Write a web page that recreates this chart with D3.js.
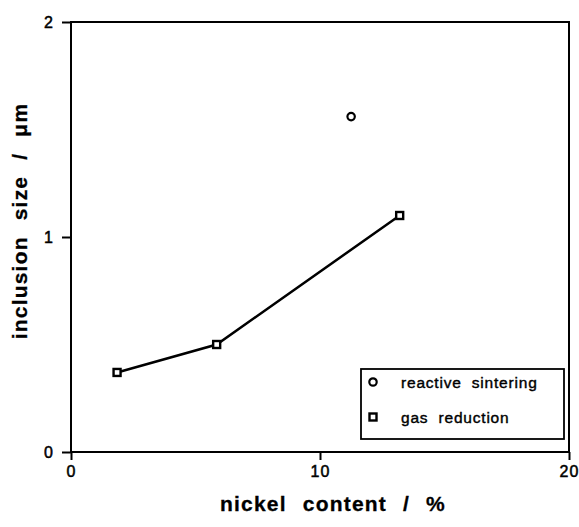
<!DOCTYPE html>
<html>
<head>
<meta charset="utf-8">
<script src="https://cdn.jsdelivr.net/npm/d3@7"></script>
<style>
  body { margin: 0; background: #fff; }
  text { font-family: "Liberation Sans", Arial, sans-serif; fill: #000; }
</style>
</head>
<body>
<svg id="chart"></svg>
<script>
const gasNickel = [1.85, 5.85, 13.2],
      gasSize = [0.37, 0.50, 1.10];
const sinterNickel = [11.25],
      sinterSize = [1.56];
const xTicks = [0, 10, 20],
      yTicks = [0, 1, 2];
const legendLabels = ["reactive sintering", "gas reduction"];

const width = 579,
      height = 527,
      margin = {top: 22, right: 10, bottom: 75, left: 71},
      svg = d3.select("#chart")
              .attr("width", width)
              .attr("height", height);

const x = d3.scaleLinear().domain([0, 20]).range([margin.left, width - margin.right]);
const y = d3.scaleLinear().domain([0, 2]).range([height - margin.bottom, margin.top]);

// frame
svg.append("rect")
    .attr("x", x(0)).attr("y", y(2))
    .attr("width", x(20) - x(0)).attr("height", y(0) - y(2))
    .attr("fill", "none").attr("stroke", "#000").attr("stroke-width", 2);

const xAxis = svg.append("g")
    .attr("transform", `translate(0,${y(0)})`)
    .call(d3.axisBottom(x).tickValues(xTicks).tickSize(8).tickPadding(6).tickFormat(d3.format("d")));
const yAxis = svg.append("g")
    .attr("transform", `translate(${x(0)},0)`)
    .call(d3.axisLeft(y).tickValues(yTicks).tickSize(9).tickPadding(8).tickFormat(d3.format("d")));

[xAxis, yAxis].forEach((a) => {
    a.select(".domain").remove();
    a.selectAll(".tick line").attr("stroke", "#000").attr("stroke-width", 2);
    a.selectAll(".tick text")
        .style("font-family", "'Liberation Sans', Arial, sans-serif")
        .style("font-size", "16px")
        .style("letter-spacing", "1px")
        .attr("fill", "#000")
        .attr("stroke", "#000")
        .attr("stroke-width", 0.5);
});

// line through gas reduction points
const gasPts = gasNickel.map((n, i) => [n, gasSize[i]]);
svg.append("path")
    .datum(gasPts)
    .attr("d", d3.line().x((d) => x(d[0])).y((d) => y(d[1])))
    .attr("fill", "none")
    .attr("stroke", "#000")
    .attr("stroke-width", 2.5);

function square(g, cx, cy) {
    g.append("rect")
        .attr("x", cx - 3.5).attr("y", cy - 3.5)
        .attr("width", 7).attr("height", 7)
        .attr("fill", "#fff").attr("stroke", "#000").attr("stroke-width", 2.4);
}
function circle(g, cx, cy) {
    g.append("circle")
        .attr("cx", cx).attr("cy", cy).attr("r", 3.7)
        .attr("fill", "#fff").attr("stroke", "#000").attr("stroke-width", 2.2);
}

const marks = svg.append("g");
gasPts.forEach((d) => square(marks, x(d[0]), y(d[1])));
sinterNickel.forEach((n, i) => circle(marks, x(n), y(sinterSize[i])));

// legend
const legend = svg.append("g");
legend.append("rect")
    .attr("x", 361).attr("y", 369)
    .attr("width", 203).attr("height", 70)
    .attr("fill", "#fff").attr("stroke", "#000").attr("stroke-width", 1.8);
circle(legend, 373, 382);
square(legend, 373, 417);
legendLabels.forEach((t, i) => {
    legend.append("text")
        .attr("x", 401).attr("y", i ? 423 : 388)
        .style("font-size", "15.5px")
        .style("letter-spacing", "0.8px")
        .style("word-spacing", "5px")
        .attr("stroke", "#000")
        .attr("stroke-width", 0.4)
        .text(t);
});

// axis titles
const titleStyle = (t) => t
    .attr("text-anchor", "middle")
    .style("font-size", "21px")
    .style("font-weight", "bold")
    .style("word-spacing", "9px")
    .style("letter-spacing", "1.2px")
    .attr("stroke", "#000")
    .attr("stroke-width", 0.3);

svg.append("text")
    .attr("x", 333).attr("y", 511)
    .call(titleStyle)
    .text("nickel content / %");

svg.append("text")
    .attr("transform", `translate(27,221) rotate(-90)`)
    .call(titleStyle)
    .text("inclusion size / μm");
</script>
</body>
</html>
